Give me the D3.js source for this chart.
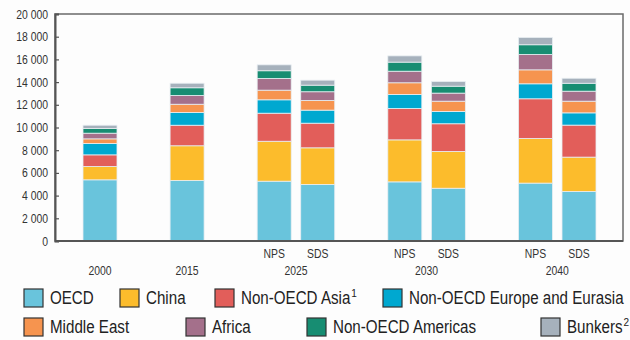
<!DOCTYPE html>
<html>
<head>
<meta charset="utf-8">
<script src="https://cdn.jsdelivr.net/npm/d3@7"></script>
<style>
  body { margin: 0; background: #fdfdfd; }
  svg { display: block; font-family: 'Liberation Sans Narrow', 'Liberation Sans', Arial, sans-serif; }
</style>
</head>
<body>
<div id="chart"></div>
<script>
// bars, in order from left to right
var years     = ["2000", "2015", "2025", "2025", "2030", "2030", "2040", "2040"];
var scenarios = ["",     "",     "NPS",  "SDS",  "NPS",  "SDS",  "NPS",  "SDS"];

// series values per bar
var regions = ["OECD", "China", "Non-OECD Asia", "Non-OECD Europe and Eurasia",
               "Middle East", "Africa", "Non-OECD Americas", "Bunkers"];
var oecd      = [5390, 5330, 5270, 4980, 5210, 4650, 5100, 4360];
var china     = [1170, 3060, 3520, 3230, 3700, 3240, 3930, 3030];
var asia      = [1030, 1810, 2470, 2170, 2760, 2440, 3500, 2820];
var europe    = [1000, 1120, 1180, 1150, 1240, 1080, 1320, 1080];
var mideast   = [ 410,  730,  850,  850, 1030,  910, 1230, 1030];
var africa    = [ 500,  770, 1030,  770, 1020,  710, 1350,  880];
var americas  = [ 410,  680,  680,  580,  800,  610,  860,  700];
var bunkers   = [ 290,  400,  520,  440,  550,  410,  640,  440];

var yTicks = [0, 2000, 4000, 6000, 8000, 10000, 12000, 14000, 16000, 18000, 20000];

var colors = ["#69c4dc", "#fcbc2c", "#e25e5a", "#00a8d0", "#f6944f", "#a4708b", "#178d72", "#a6b1bc"];
var notes  = ["", "", "1", "", "", "", "", "2"];

var width = 630, height = 340;
var plotL = 55, plotR = 623, plotT = 14, plotB = 241;

var series = [oecd, china, asia, europe, mideast, africa, americas, bunkers];
var table = years.map(function(y, i) {
    var row = { year: y, scen: scenarios[i] };
    regions.forEach(function(r, k) { row[r] = series[k][i]; });
    return row;
});

// slot positions: a new year moves one step, a second scenario half a step
var slot = 0;
table.forEach(function(d, i) {
    if (i > 0) slot += (d.year === table[i - 1].year) ? 0.5 : 1;
    d.slot = slot;
});

var x = d3.scaleLinear().domain([0, 5.5]).range([100, 579]);
var y = d3.scaleLinear().domain([0, 20000]).range([plotB, plotT]);
var color = d3.scaleOrdinal().domain(regions).range(colors);
var barW = 34;

// squeeze text so it looks like a condensed face
function condense(k) {
    return function(sel) {
        sel.each(function() {
            var w = this.getComputedTextLength();
            d3.select(this).attr("textLength", w * k).attr("lengthAdjust", "spacingAndGlyphs");
        });
    };
}

var svg = d3.select("#chart").append("svg")
    .attr("width", width)
    .attr("height", height);

svg.append("rect").attr("width", width).attr("height", height).attr("fill", "#fdfdfd");

var stack = d3.stack().keys(regions)(table);

svg.append("g").selectAll("g")
    .data(stack)
    .join("g")
    .attr("fill", function(s) { return color(s.key); })
    .selectAll("rect")
    .data(function(s) { return s; })
    .join("rect")
    .attr("x", function(d) { return x(d.data.slot) - barW / 2; })
    .attr("width", barW)
    .attr("y", function(d) { return y(d[1]); })
    .attr("height", function(d) { return y(d[0]) - y(d[1]); })
    .attr("stroke", "#e8eef2")
    .attr("stroke-width", 0.8);

// frame
svg.append("rect")
    .attr("x", plotL).attr("y", plotT)
    .attr("width", plotR - plotL).attr("height", plotB - plotT)
    .attr("fill", "none")
    .attr("stroke", "#6a6a6a")
    .attr("stroke-width", 1.5);

var fmt = function(v) { return d3.format(",")(v).replace(",", " "); };

var yAxis = svg.append("g")
    .attr("transform", "translate(" + plotL + ",0)")
    .call(d3.axisRight(y).tickValues(yTicks).tickSize(4).tickFormat(""));
yAxis.select(".domain").attr("stroke", "#555").attr("stroke-width", 2);
yAxis.selectAll(".tick line").attr("stroke", "#555").attr("stroke-width", 1.2);

svg.append("g").selectAll("text")
    .data(yTicks)
    .join("text")
    .attr("x", 48)
    .attr("y", function(d) { return y(d); })
    .attr("dy", "0.35em")
    .attr("text-anchor", "end")
    .attr("font-size", 13)
    .attr("fill", "#333")
    .text(fmt)
    .call(condense(0.8));

svg.append("line")
    .attr("x1", plotL).attr("x2", plotR)
    .attr("y1", plotB).attr("y2", plotB)
    .attr("stroke", "#555").attr("stroke-width", 2);

// scenario labels
svg.append("g").selectAll("text")
    .data(table.filter(function(d) { return d.scen; }))
    .join("text")
    .attr("x", function(d) { return x(d.slot); })
    .attr("y", 258)
    .attr("text-anchor", "middle")
    .attr("font-size", 13)
    .attr("fill", "#333")
    .text(function(d) { return d.scen; })
    .call(condense(0.8));

// year labels, centred under each group
var groups = d3.groups(table, function(d) { return d.year; });
svg.append("g").selectAll("text")
    .data(groups)
    .join("text")
    .attr("x", function(g) { return x(d3.mean(g[1], function(d) { return d.slot; })); })
    .attr("y", 275)
    .attr("text-anchor", "middle")
    .attr("font-size", 13)
    .attr("fill", "#333")
    .text(function(g) { return g[0]; })
    .call(condense(0.8));

// legend
var legX = [24, 120, 215, 383, 24, 186, 307, 541];
var legY = [289, 289, 289, 289, 318, 318, 318, 318];
var leg = svg.append("g").selectAll("g")
    .data(regions)
    .join("g")
    .attr("transform", function(d, i) { return "translate(" + legX[i] + "," + legY[i] + ")"; });

leg.append("rect")
    .attr("width", 19).attr("height", 18)
    .attr("fill", function(d) { return color(d); })
    .attr("stroke", "#333")
    .attr("stroke-width", 1.2);

var lt = leg.append("text")
    .attr("x", 26)
    .attr("y", 15)
    .attr("font-size", 17.5)
    .attr("fill", "#222")
    .text(function(d) { return d; })
    .call(condense(0.865));

// footnote marks as separate small texts after the label
lt.each(function(d) {
    var n = notes[regions.indexOf(d)];
    if (!n) return;
    var w = +d3.select(this).attr("textLength");
    d3.select(this.parentNode).append("text")
        .attr("x", 26 + w + 1)
        .attr("y", 8)
        .attr("font-size", 10)
        .attr("fill", "#222")
        .text(n);
});
</script>
</body>
</html>
